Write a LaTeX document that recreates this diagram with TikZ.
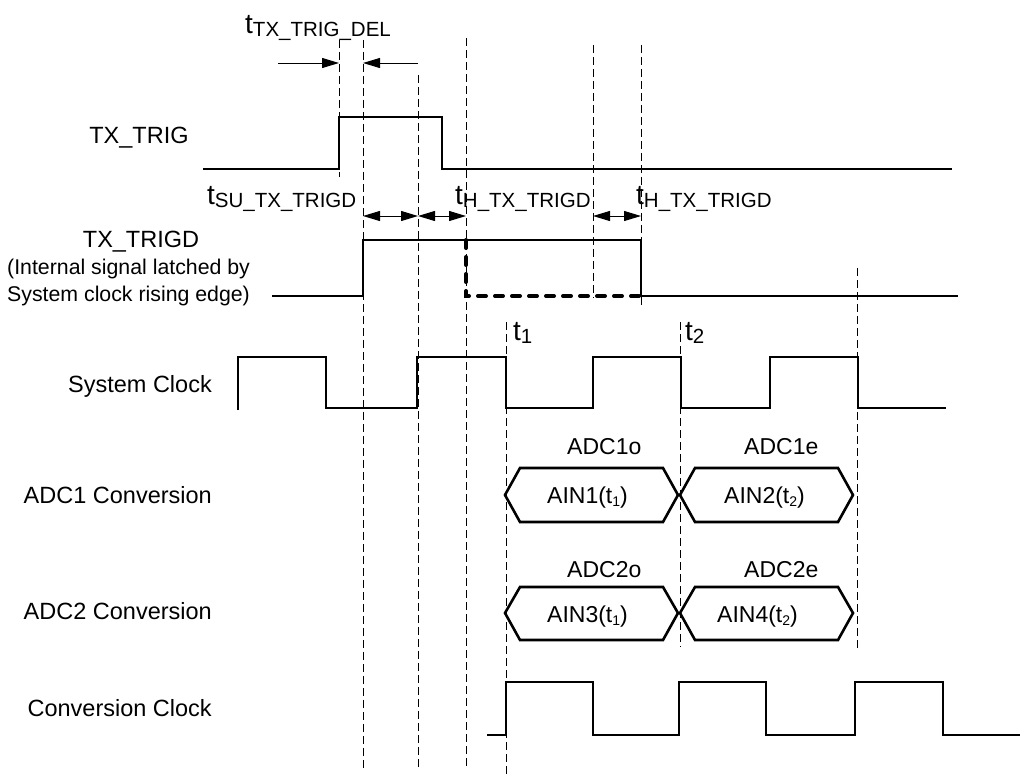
\documentclass[tikz,border=0pt]{standalone}
\usepackage{fontspec}
\setmainfont{Liberation Sans}
\usetikzlibrary{arrows.meta,calc}

% timing symbol: big t with lowered subscript
\newcommand{\tsym}[1]{{\fontsize{28}{30}\selectfont t}\raisebox{-3pt}{\fontsize{20.5}{24}\selectfont #1}}
\newcommand{\smallsub}[1]{\raisebox{-3pt}{\fontsize{14}{16}\selectfont #1}}

\tikzset{
  % Signal trace: heavy stroke, square corners
  wave/.style={line width=2.8pt, line join=miter},
  % Bus (hexagon) outline
  bus/.style={line width=2.6pt, line join=miter},
  % Thin dashed timing guide
  guide/.style={line width=0.9pt, dash pattern=on 8pt off 4pt},
  % Heavy dashed "latched" path
  latchdash/.style={line width=4pt, line cap=round, dash pattern=on 8pt off 9pt},
  % Dimension arrows
  dimarr/.style={line width=1pt, -{Triangle[length=17pt,width=10pt]}},
  dimbi/.style={line width=1pt, {Triangle[length=17pt,width=10pt]}-{Triangle[length=17pt,width=10pt]}},
  % Texts
  siglbl/.style={font=\fontsize{23.5}{28}\selectfont, inner sep=0pt},
  notelbl/.style={font=\fontsize{21.3}{25}\selectfont, inner sep=0pt, anchor=base west},
  buslbl/.style={font=\fontsize{23}{27}\selectfont, inner sep=0pt, anchor=base west},
  tlbl/.style={inner sep=0pt, anchor=base west}
}

\begin{document}
\begin{tikzpicture}[x=1pt, y=-1pt]
\useasboundingbox (0,0) rectangle (1020,774);

% ============== SIGNAL NAMES ==============
\node[siglbl, anchor=base] (lbl_trig) at (139,143.5) {TX\_TRIG};
\node[siglbl, anchor=base] (lbl_trigd) at (141,247) {TX\_TRIGD};
\node[notelbl] (lbl_note_a) at (7,274) {(Internal signal latched by};
\node[notelbl] (lbl_note_b) at (7,301) {System clock rising edge)};
\node[siglbl, anchor=base east] (lbl_sysclk) at (212,392) {System Clock};
\node[siglbl, anchor=base east] (lbl_adc1) at (212,503) {ADC1 Conversion};
\node[siglbl, anchor=base east] (lbl_adc2) at (212,619) {ADC2 Conversion};
\node[siglbl, anchor=base east] (lbl_cnvclk) at (212,716) {Conversion Clock};

% ============== DASHED TIMING GUIDES ==============
\draw[guide] (339,40) -- (339,177);
\draw[guide] (363,40) -- (363,768);
\draw[guide] (418,75) -- (418,768);
\draw[guide] (466,38) -- (466,768);
\draw[guide] (506,322) -- (506,774);
\draw[guide] (593,45) -- (593,298);
\draw[guide] (641,45) -- (641,305);
\draw[guide] (680,322) -- (680,647);
\draw[guide] (857,268) -- (857,648);

% ============== TX_TRIG ==============
\draw[wave] (203,169) -- (339,169) -- (339,117) -- (442,117) -- (442,169) -- (952,169);

% trigger delay
\node[tlbl] (t_del) at (245,33) {\tsym{TX\_TRIG\_DEL}};
\coordinate (del_a) at (278,63);
\coordinate (del_b) at (339,63);
\coordinate (del_c) at (418,63);
\coordinate (del_d) at (363,63);
\draw[dimarr] (del_a) -- (del_b);
\draw[dimarr] (del_c) -- (del_d);

% ============== TX_TRIGD ==============
\node[tlbl] (t_su) at (207,204) {\tsym{SU\_TX\_TRIGD}};
\node[tlbl] (t_h_a) at (455,204) {\tsym{H\_TX\_TRIGD}};
\node[tlbl] (t_h_b) at (636,204) {\tsym{H\_TX\_TRIGD}};
\coordinate (su_a) at (363,216);
\coordinate (su_b) at (418,216);
\coordinate (h_a) at (466,216);
\coordinate (h_b) at (593,216);
\coordinate (h_c) at (641,216);
\draw[dimbi] (su_a) -- (su_b);
\draw[dimbi] (su_b) -- (h_a);
\draw[dimbi] (h_b) -- (h_c);

\draw[wave] (272,296) -- (363,296) -- (363,240) -- (641,240) -- (641,296) -- (958,296);
\draw[latchdash] (466,240) -- (466,296) -- (641,296);

% ============== SYSTEM CLOCK ==============
\node[tlbl] (t_one) at (513,340) {\tsym{1}};
\node[tlbl] (t_two) at (685,340) {\tsym{2}};
\draw[wave] (238,410) -- (238,357) -- (326,357) -- (326,408) -- (417,408) -- (417,357)
  -- (506,357) -- (506,408) -- (593,408) -- (593,357) -- (681,357) -- (681,408)
  -- (770,408) -- (770,357) -- (858,357) -- (858,408) -- (946,408);

% ============== ADC CONVERSIONS ==============
\foreach \xa/\xb in {505/678, 680/853} {
  \draw[bus] (\xa,495) -- (\xa+15,468) -- (\xb-15,468) -- (\xb,495) -- (\xb-15,522) -- (\xa+15,522) -- cycle;
  \draw[bus] (\xa,613) -- (\xa+15,587) -- (\xb-15,587) -- (\xb,613) -- (\xb-15,640) -- (\xa+15,640) -- cycle;
}
\node[buslbl] (adc1o) at (567,454) {ADC1o};
\node[buslbl] (adc1e) at (744,454) {ADC1e};
\node[buslbl] (ain1) at (547,503) {AIN1(t\smallsub{1})};
\node[buslbl] (ain2) at (724,503) {AIN2(t\smallsub{2})};
\node[buslbl] (adc2o) at (567,577) {ADC2o};
\node[buslbl] (adc2e) at (744,577) {ADC2e};
\node[buslbl] (ain3) at (547,622) {AIN3(t\smallsub{1})};
\node[buslbl] (ain4) at (717,622) {AIN4(t\smallsub{2})};

% ============== CONVERSION CLOCK ==============
\draw[wave] (487,735) -- (506,735) -- (506,682) -- (593,682) -- (593,735) -- (679,735)
  -- (679,682) -- (766,682) -- (766,735) -- (855,735) -- (855,682) -- (943,682)
  -- (943,735) -- (1020,735);

\end{tikzpicture}
\end{document}
